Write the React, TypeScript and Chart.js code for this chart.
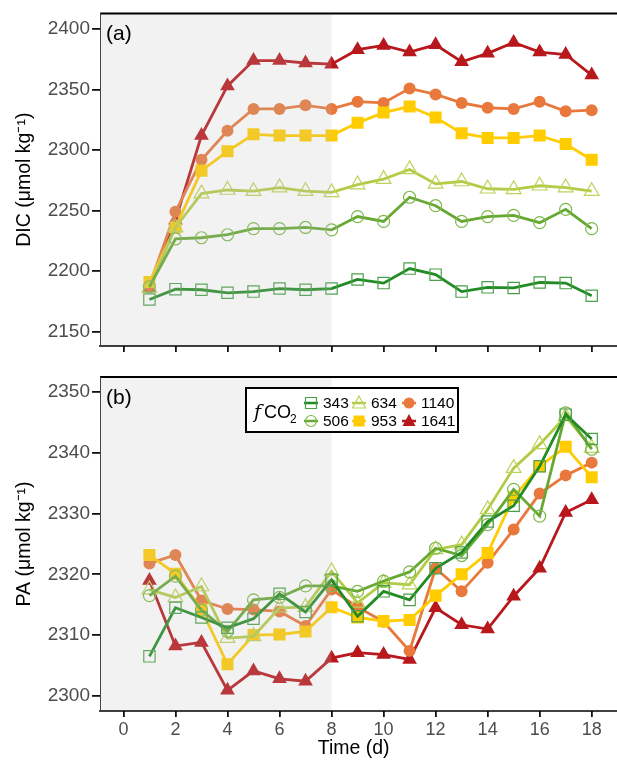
import React, { useEffect, useRef } from "react";
import { Chart, registerables } from "chart.js";

Chart.register(...registerables);

const days = [1, 2, 3, 4, 5, 6, 7, 8, 9, 10, 11, 12, 13, 14, 15, 16, 17, 18];
const xTicks = [0, 2, 4, 6, 8, 10, 12, 14, 16, 18];
const dicTicks = [2150, 2200, 2250, 2300, 2350, 2400];
const paTicks = [2300, 2310, 2320, 2330, 2340, 2350];
const seriesNames = ["343", "506", "634", "953", "1140", "1641"];

const dic343 = [2176.5, 2185, 2184.5, 2182, 2183, 2185.5, 2184.5, 2185.5, 2193, 2190, 2202, 2197, 2183, 2186.5, 2186, 2190.5, 2190, 2179.5];
const dic506 = [2187, 2226.5, 2227.5, 2230, 2235, 2235, 2236, 2234, 2245, 2241, 2261, 2254, 2241, 2245, 2246, 2240, 2251, 2235];
const dic634 = [2186, 2236, 2264, 2267, 2266, 2269, 2266, 2265, 2271.5, 2276, 2284, 2272, 2274, 2268, 2267.5, 2270.5, 2269, 2266];
const dic953 = [2191, 2236, 2283, 2299, 2313, 2312, 2312, 2312, 2322.5, 2331, 2336, 2327, 2314, 2310, 2310, 2312, 2305, 2292];
const dic1140 = [2188, 2249, 2292, 2316, 2334, 2334, 2337, 2334, 2340, 2339, 2351, 2346, 2339, 2335, 2334, 2340, 2332, 2333];
const dic1641 = [2186, 2242, 2312, 2353, 2374, 2374, 2372, 2371, 2383, 2386.5, 2381, 2387, 2373, 2380, 2389, 2381, 2379, 2362];

const pa343 = [2306.5, 2314.5, 2312.9, 2311.2, 2312.7, 2316.8, 2313.8, 2319.1, 2313.1, 2317.2, 2315.8, 2321, 2323.6, 2328.7, 2331.3, 2337.8, 2346.3, 2342.3];
const pa506 = [2316.5, 2319.7, 2314.1, 2310.6, 2315.8, 2316.2, 2318.1, 2318.1, 2317.2, 2318.9, 2320.4, 2324.3, 2323.1, 2328.2, 2334, 2329.6, 2346.6, 2340.6];
const pa634 = [2317.5, 2316.2, 2318, 2309.5, 2309.8, 2314.5, 2314.6, 2320.5, 2315.3, 2318.6, 2318.3, 2324.1, 2324.9, 2330.7, 2337.5, 2341.4, 2346, 2340.8];
const pa953 = [2323.2, 2320.1, 2314.2, 2305.2, 2310, 2310.1, 2310.6, 2314.6, 2312.9, 2312.3, 2312.5, 2316.5, 2320, 2323.5, 2332.7, 2337.8, 2341, 2336];
const pa1140 = [2321.8, 2323.2, 2315.7, 2314.3, 2314.2, 2313.9, 2311.5, 2317.5, 2314.6, 2312.2, 2307.4, 2321, 2317.2, 2321.9, 2327.4, 2333.3, 2336.3, 2338.4];
const pa1641 = [2319, 2308.2, 2308.8, 2300.9, 2304.1, 2302.8, 2302.4, 2306.2, 2307.1, 2306.8, 2306, 2314.5, 2311.7, 2311, 2316.4, 2321, 2330.2, 2332.3];

const lineColors = ["#238b23", "#66a832", "#b3cc48", "#ffcc00", "#e8783c", "#b8171c"];
const pointColors = ["#4aa04a", "#7cb84a", "#bcd35a", "#ffcc00", "#e8783c", "#b8171c"];
const pointStyles = ["rect", "circle", "triangle", "rect", "circle", "triangle"];
const pointFilled = [false, false, false, true, true, true];
const pointRadii = [8, 6, 8.5, 8.5, 6, 8.5];

const FONT = "'Liberation Sans', Arial, sans-serif";

function makeDatasets(values: number[][]) {
  return values.map((vals, i) => ({
    label: seriesNames[i],
    data: days.map((d, j) => ({ x: d, y: vals[j] })),
    borderColor: lineColors[i],
    borderWidth: 2.8,
    pointStyle: pointStyles[i],
    pointRadius: pointRadii[i],
    pointHoverRadius: pointRadii[i],
    pointBorderColor: pointColors[i],
    pointBackgroundColor: pointFilled[i] ? pointColors[i] : "rgba(0,0,0,0)",
    pointBorderWidth: pointFilled[i] ? 0 : 1.2,
    tension: 0,
    fill: false,
  }));
}

function panelPlugin(label: string, labelY: number, withLegend: boolean) {
  return {
    id: "panel" + label,
    afterDatasetsDraw(chart: any) {
      const { ctx, chartArea } = chart;
      const xs = chart.scales.x;
      const x8 = xs.getPixelForValue(8);
      ctx.save();
      ctx.fillStyle = "rgba(190,190,190,0.2)";
      ctx.fillRect(chartArea.left, chartArea.top, x8 - chartArea.left, chartArea.bottom - chartArea.top);
      ctx.restore();
    },
    afterDraw(chart: any) {
      const { ctx, chartArea } = chart;
      ctx.save();
      ctx.strokeStyle = "#000";
      ctx.lineWidth = 2;
      ctx.beginPath();
      ctx.moveTo(chartArea.left, chartArea.top);
      ctx.lineTo(chart.width, chartArea.top);
      ctx.stroke();
      ctx.lineWidth = 1.5;
      ctx.beginPath();
      ctx.moveTo(chartArea.left - 1, chartArea.bottom);
      ctx.lineTo(chart.width, chartArea.bottom);
      ctx.stroke();
      ctx.strokeStyle = "#444";
      ctx.lineWidth = 1;
      ctx.beginPath();
      ctx.moveTo(chartArea.left + 0.5, chartArea.top);
      ctx.lineTo(chartArea.left + 0.5, chartArea.bottom);
      ctx.stroke();
      ctx.fillStyle = "#000";
      ctx.font = "21px " + FONT;
      ctx.textBaseline = "middle";
      ctx.textAlign = "left";
      ctx.fillText(label, chartArea.left + 6, labelY);

      if (withLegend) {
        const bx = 246, by = 28, bw = 212, bh = 44;
        ctx.fillStyle = "#fff";
        ctx.fillRect(bx, by, bw, bh);
        ctx.strokeStyle = "#000";
        ctx.lineWidth = 2;
        ctx.strokeRect(bx, by, bw, bh);
        ctx.textBaseline = "alphabetic";
        ctx.fillStyle = "#000";
        ctx.font = "italic 19px 'DejaVu Serif', 'Liberation Serif', serif";
        ctx.fillText("f", 254, 58);
        ctx.font = "18px " + FONT;
        ctx.fillText("CO", 264, 58);
        ctx.font = "12px " + FONT;
        ctx.fillText("2", 290, 63);
        const colX = [311, 359, 409];
        const rowY = [43, 61];
        for (let i = 0; i < 6; i++) {
          const c = Math.floor(i / 2);
          const r = i % 2;
          const cx = colX[c];
          const cy = rowY[r];
          ctx.strokeStyle = lineColors[i];
          ctx.lineWidth = 2.5;
          ctx.beginPath();
          ctx.moveTo(cx - 7, cy);
          ctx.lineTo(cx + 7, cy);
          ctx.stroke();
          ctx.strokeStyle = pointColors[i];
          ctx.fillStyle = pointColors[i];
          ctx.lineWidth = 1.2;
          const s = pointStyles[i];
          ctx.beginPath();
          if (s === "rect") {
            ctx.rect(cx - 5.5, cy - 5.5, 11, 11);
          } else if (s === "circle") {
            ctx.arc(cx, cy, 5.5, 0, Math.PI * 2);
          } else {
            ctx.moveTo(cx, cy - 7);
            ctx.lineTo(cx + 6.5, cy + 5);
            ctx.lineTo(cx - 6.5, cy + 5);
            ctx.closePath();
          }
          if (pointFilled[i]) ctx.fill();
          else ctx.stroke();
          ctx.fillStyle = "#000";
          ctx.font = "15.5px " + FONT;
          ctx.textBaseline = "middle";
          ctx.fillText(seriesNames[i], cx + 12, cy + 1);
        }
      }
      ctx.restore();
    },
  };
}

function makeConfig(opts: {
  values: number[][];
  yMin: number;
  yMax: number;
  yTicks: number[];
  yTitle: string;
  showX: boolean;
  padTop: number;
  xHeight: number;
  label: string;
  labelY: number;
  legend: boolean;
}): any {
  return {
    type: "line",
    data: { datasets: makeDatasets(opts.values) },
    plugins: [panelPlugin(opts.label, opts.labelY, opts.legend)],
    options: {
      animation: false,
      responsive: false,
      maintainAspectRatio: false,
      events: [],
      layout: { padding: { top: opts.padTop, right: 0, left: 0, bottom: 0 } },
      plugins: { legend: { display: false }, tooltip: { enabled: false } },
      scales: {
        x: {
          type: "linear",
          min: -0.9,
          max: 18.6,
          afterBuildTicks: (s: any) => {
            s.ticks = xTicks.map((v) => ({ value: v }));
          },
          afterFit: (s: any) => {
            s.height = opts.xHeight;
          },
          border: { display: false },
          grid: { drawOnChartArea: false, drawTicks: true, tickLength: 6, color: "#111", lineWidth: 1.8 },
          ticks: {
            display: opts.showX,
            font: { family: FONT, size: 18 },
            color: "#4d4d4d",
            padding: 2,
            maxRotation: 0,
            autoSkip: false,
            callback: (v: any) => String(v),
          },
          title: {
            display: opts.showX,
            text: "Time (d)",
            font: { family: FONT, size: 19.5 },
            color: "#000",
            padding: { top: 0, bottom: 0 },
          },
        },
        y: {
          type: "linear",
          min: opts.yMin,
          max: opts.yMax,
          afterBuildTicks: (s: any) => {
            s.ticks = opts.yTicks.map((v) => ({ value: v }));
          },
          afterFit: (s: any) => {
            s.width = 100;
          },
          border: { display: false },
          grid: { drawOnChartArea: false, drawTicks: true, tickLength: 8, color: "#111", lineWidth: 1.8 },
          ticks: {
            font: { family: FONT, size: 19 },
            color: "#4d4d4d",
            padding: 2,
            autoSkip: false,
            callback: (v: any) => String(v),
          },
          title: {
            display: true,
            text: opts.yTitle,
            font: { family: FONT, size: 19.5 },
            color: "#000",
            padding: { top: 13, bottom: 0 },
          },
        },
      },
    },
  };
}

export default function App() {
  const refA = useRef<HTMLCanvasElement | null>(null);
  const refB = useRef<HTMLCanvasElement | null>(null);

  useEffect(() => {
    const a = new Chart(
      refA.current as HTMLCanvasElement,
      makeConfig({
        values: [dic343, dic506, dic634, dic953, dic1140, dic1641],
        yMin: 2138,
        yMax: 2413,
        yTicks: dicTicks,
        yTitle: "DIC (μmol kg⁻¹)",
        showX: false,
        padTop: 13,
        xHeight: 14,
        label: "(a)",
        labelY: 34,
        legend: false,
      })
    );
    const b = new Chart(
      refB.current as HTMLCanvasElement,
      makeConfig({
        values: [pa343, pa506, pa634, pa953, pa1140, pa1641],
        yMin: 2297.5,
        yMax: 2352.5,
        yTicks: paTicks,
        yTitle: "PA (μmol kg⁻¹)",
        showX: true,
        padTop: 17,
        xHeight: 49,
        label: "(b)",
        labelY: 38,
        legend: true,
      })
    );
    return () => {
      a.destroy();
      b.destroy();
    };
  }, []);

  return (
    <div style={{ position: "absolute", left: 0, top: 0, width: 617, height: 760, background: "#fff" }}>
      <canvas ref={refA} width={617} height={360} style={{ position: "absolute", left: 0, top: 0, width: 617, height: 360 }} />
      <canvas ref={refB} width={617} height={400} style={{ position: "absolute", left: 0, top: 360, width: 617, height: 400 }} />
    </div>
  );
}
